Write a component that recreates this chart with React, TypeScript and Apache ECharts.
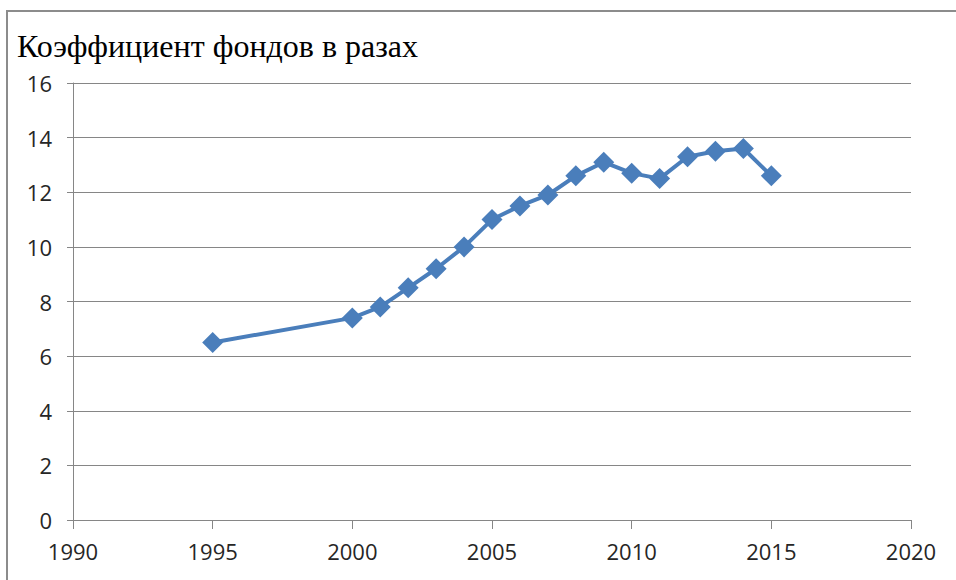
import React, { useEffect, useRef } from "react";
import * as echarts from "echarts";

const titleText = "Коэффициент фондов в разах";
const years = [1995, 2000, 2001, 2002, 2003, 2004, 2005, 2006, 2007, 2008, 2009, 2010, 2011, 2012, 2013, 2014, 2015];
const values = [6.5, 7.4, 7.8, 8.5, 9.2, 10.0, 11.0, 11.5, 11.9, 12.6, 13.1, 12.7, 12.5, 13.3, 13.5, 13.6, 12.6];

export default function App() {
  const ref = useRef<HTMLDivElement>(null);
  useEffect(() => {
    if (!ref.current) return;
    const chart = echarts.init(ref.current, null, { renderer: "svg" });
    const axisColor = "#868686";
    const labelFont = { fontFamily: "Open Sans", fontSize: 22, color: "#262626" };
    chart.setOption({
      animation: false,
      backgroundColor: "#ffffff",
      title: {
        text: titleText,
        left: 12,
        top: 25,
        textStyle: {
          fontFamily: "'Liberation Serif', 'DejaVu Serif', serif",
          fontSize: 32,
          fontWeight: "normal",
          color: "#000",
        },
      },
      graphic: [
        {
          type: "rect",
          shape: { x: 7, y: 11, width: 1000, height: 700 },
          style: { fill: "none", stroke: "#8c8c8c", lineWidth: 2 },
          silent: true,
        },
      ],
      grid: { left: 73, right: 45, top: 83, bottom: 60, containLabel: false },
      xAxis: {
        type: "value",
        min: 1990,
        max: 2020,
        interval: 5,
        axisLine: { show: true, lineStyle: { color: axisColor, width: 1 } },
        axisTick: { show: true, length: 9, lineStyle: { color: axisColor } },
        splitLine: { show: false },
        axisLabel: { ...labelFont, margin: 20, formatter: (v: number) => String(v) },
      },
      yAxis: {
        type: "value",
        min: 0,
        max: 16,
        interval: 2,
        axisLine: { show: true, lineStyle: { color: axisColor, width: 1 } },
        axisTick: { show: true, length: 6, lineStyle: { color: axisColor } },
        splitLine: { show: true, lineStyle: { color: axisColor, width: 1 } },
        axisLabel: { ...labelFont, margin: 21 },
      },
      series: [
        {
          type: "line",
          data: years.map((y, i) => [y, values[i]]),
          symbol: "diamond",
          symbolSize: 21,
          lineStyle: { color: "#4a7ebb", width: 4 },
          itemStyle: { color: "#4a7ebb" },
        },
      ],
    });
    return () => chart.dispose();
  }, []);
  return <div ref={ref} style={{ width: 956, height: 580, position: "absolute", left: 0, top: 0 }} />;
}
